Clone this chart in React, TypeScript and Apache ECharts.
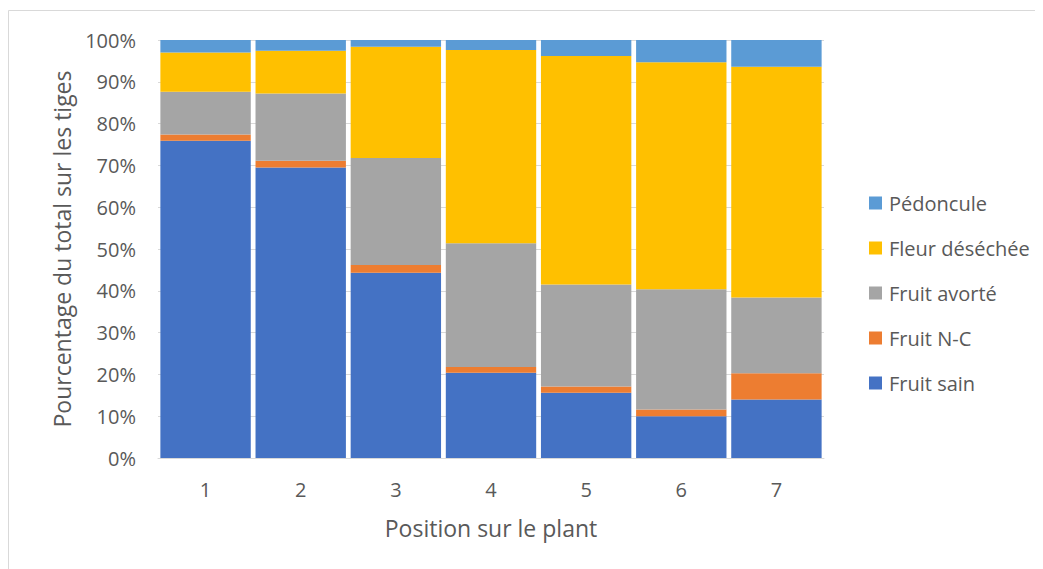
import React, { useEffect, useRef } from "react";
import * as echarts from "echarts";

const categories = ["1", "2", "3", "4", "5", "6", "7"];
const fruitSain = [75.9, 69.5, 44.3, 20.4, 15.6, 10.0, 14.0];
const fruitNC = [1.5, 1.6, 1.9, 1.4, 1.5, 1.6, 6.3];
const fruitAvorte = [10.2, 16.1, 25.6, 29.6, 24.4, 28.8, 18.1];
const fleurDesechee = [9.4, 10.2, 26.6, 46.2, 54.7, 54.3, 55.2];
const pedoncule = [3.0, 2.6, 1.6, 2.4, 3.8, 5.3, 6.4];

const seriesNames = ["Fruit sain", "Fruit N-C", "Fruit avorté", "Fleur déséchée", "Pédoncule"];
const seriesData = [fruitSain, fruitNC, fruitAvorte, fleurDesechee, pedoncule];
const seriesColors = ["#4472C4", "#ED7D31", "#A5A5A5", "#FFC000", "#5B9BD5"];
const legendOrder = ["Pédoncule", "Fleur déséchée", "Fruit avorté", "Fruit N-C", "Fruit sain"];

const FONT = '"Open Sans", sans-serif';

export default function App() {
  const ref = useRef<HTMLDivElement>(null);
  useEffect(() => {
    document.body.style.overflow = "hidden";
    const chart = echarts.init(ref.current!, null, { renderer: "svg" });
    chart.setOption({
      animation: false,
      textStyle: { fontFamily: FONT },
      graphic: [
        {
          type: "polyline",
          shape: { points: [[0.5, 561], [0.5, 2.5], [1035, 2.5]] },
          style: { stroke: "#d9d9d9", lineWidth: 1, fill: null },
          silent: true,
        },
      ],
      grid: { left: 150, right: 219, top: 32, height: 418, containLabel: false },
      legend: {
        orient: "vertical",
        left: 856,
        top: 180,
        itemWidth: 13,
        itemHeight: 13,
        itemGap: 25,
        icon: "rect",
        data: legendOrder,
        textStyle: { fontSize: 20, color: "#595959", fontFamily: FONT, padding: [0, 0, 0, 2] },
      },
      xAxis: {
        type: "category",
        data: categories,
        name: "Position sur le plant",
        nameLocation: "middle",
        nameGap: 58,
        nameTextStyle: { fontSize: 23, color: "#595959", fontFamily: FONT },
        axisLine: { show: true, lineStyle: { color: "#d9d9d9", width: 1 } },
        axisTick: { show: false },
        axisLabel: { fontSize: 20, color: "#595959", margin: 21, fontFamily: FONT },
      },
      yAxis: {
        type: "value",
        min: 0,
        max: 100,
        interval: 10,
        name: "Pourcentage du total sur les tiges",
        nameLocation: "middle",
        nameGap: 85,
        nameTextStyle: { fontSize: 23, color: "#595959", fontFamily: FONT },
        axisLine: { show: false },
        axisTick: { show: false },
        axisLabel: { formatter: "{value}%", fontSize: 20, color: "#595959", margin: 22, fontFamily: FONT },
        splitLine: { lineStyle: { color: "#d9d9d9", width: 1 } },
      },
      series: seriesNames.map((name, i) => ({
        name,
        type: "bar",
        stack: "total",
        barCategoryGap: "5%",
        data: seriesData[i],
        itemStyle: { color: seriesColors[i] },
        emphasis: { disabled: true },
      })),
    });
    return () => chart.dispose();
  }, []);
  return <div ref={ref} style={{ width: 1035, height: 561 }} />;
}
